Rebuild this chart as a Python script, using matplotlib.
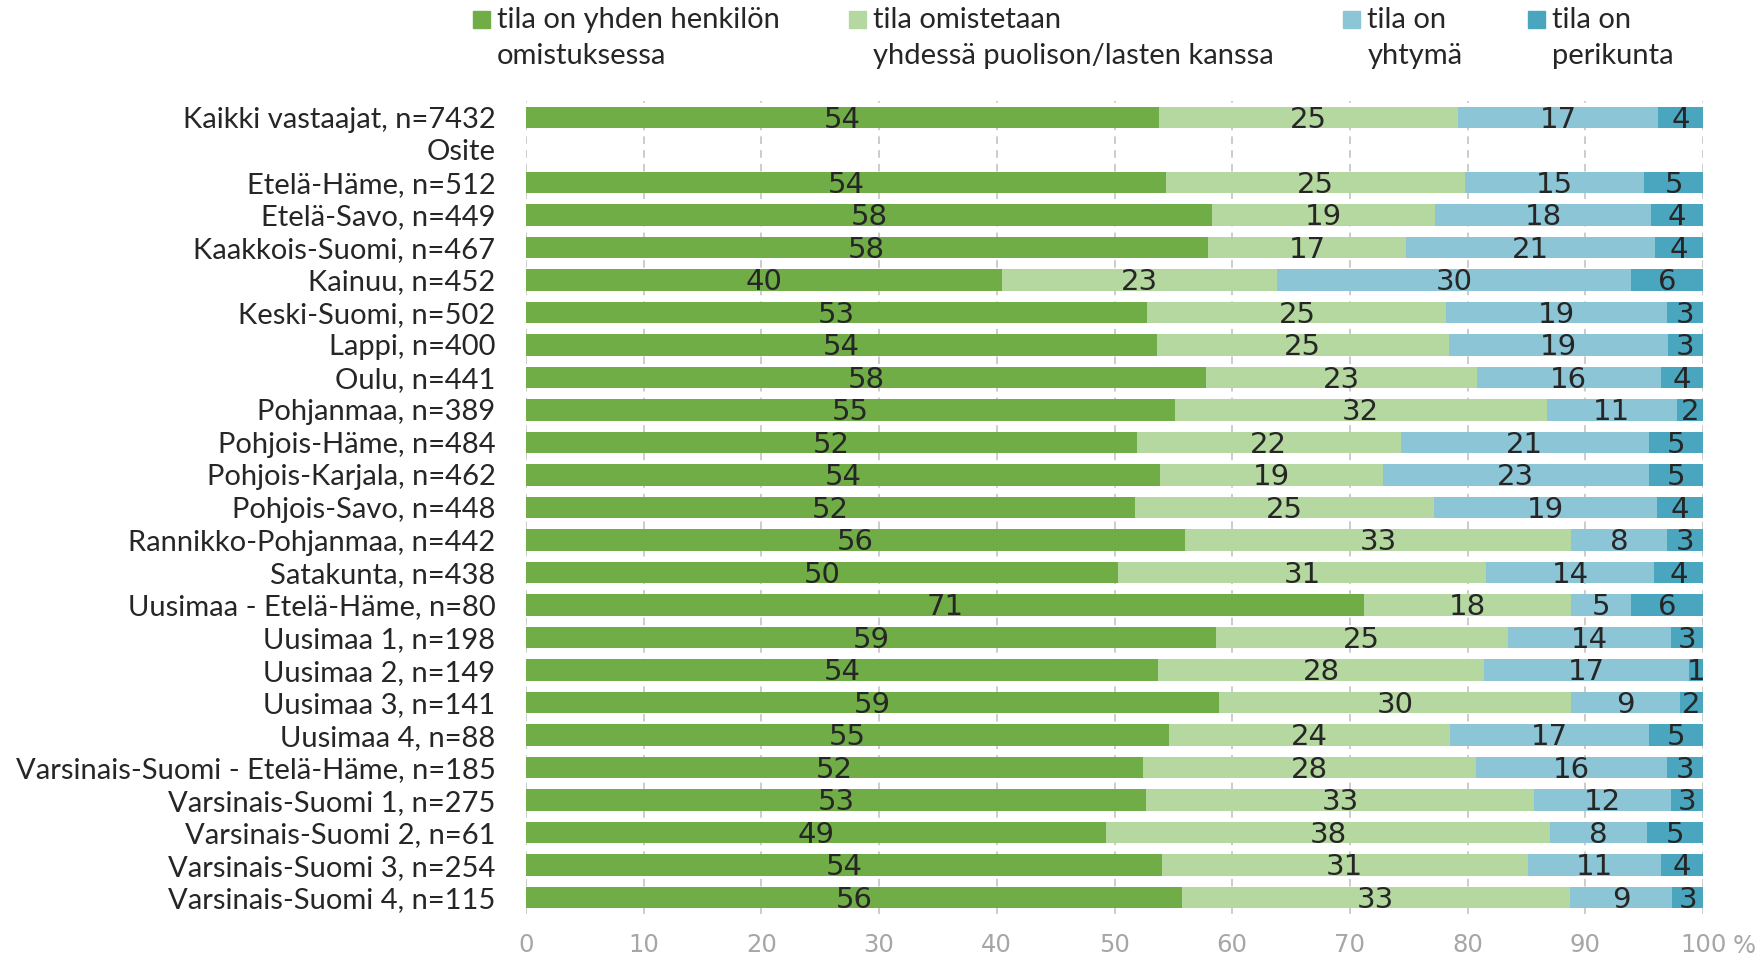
import matplotlib.pyplot as plt
from matplotlib.patches import Rectangle
import numpy as np

categories = ["Kaikki vastaajat, n=7432", "Osite", "Etelä-Häme, n=512", "Etelä-Savo, n=449",
              "Kaakkois-Suomi, n=467", "Kainuu, n=452", "Keski-Suomi, n=502", "Lappi, n=400",
              "Oulu, n=441", "Pohjanmaa, n=389", "Pohjois-Häme, n=484", "Pohjois-Karjala, n=462",
              "Pohjois-Savo, n=448", "Rannikko-Pohjanmaa, n=442", "Satakunta, n=438",
              "Uusimaa - Etelä-Häme, n=80", "Uusimaa 1, n=198", "Uusimaa 2, n=149",
              "Uusimaa 3, n=141", "Uusimaa 4, n=88", "Varsinais-Suomi - Etelä-Häme, n=185",
              "Varsinais-Suomi 1, n=275", "Varsinais-Suomi 2, n=61", "Varsinais-Suomi 3, n=254",
              "Varsinais-Suomi 4, n=115"]

# "Osite" is a heading row without data
yksi = [53.8, np.nan, 54.4, 58.3, 57.9, 40.4, 52.8, 53.6, 57.8, 55.1, 51.9, 53.9, 51.7,
        56.0, 50.3, 71.2, 58.6, 53.7, 58.9, 54.6, 52.4, 52.7, 49.3, 54.0, 55.7]
puoliso = [25.4, np.nan, 25.4, 18.9, 16.9, 23.4, 25.4, 24.8, 23.0, 31.6, 22.4, 18.9, 25.4,
           32.8, 31.3, 17.6, 24.8, 27.7, 29.9, 23.9, 28.3, 32.9, 37.7, 31.1, 33.0]
yhtyma = [17.0, np.nan, 15.2, 18.4, 21.1, 30.1, 18.7, 18.6, 15.6, 11.1, 21.1, 22.6, 19.0,
          8.1, 14.2, 5.1, 13.9, 17.4, 9.2, 16.9, 16.2, 11.7, 8.2, 11.3, 8.7]
perikunta = [3.8, np.nan, 5.0, 4.4, 4.1, 6.1, 3.1, 3.0, 3.6, 2.2, 4.6, 4.6, 3.9,
             3.1, 4.2, 6.1, 2.7, 1.2, 2.0, 4.6, 3.1, 2.7, 4.8, 3.6, 2.6]

series_names = ["tila on yhden henkilön\nomistuksessa",
                "tila omistetaan\nyhdessä puolison/lasten kanssa",
                "tila on\nyhtymä",
                "tila on\nperikunta"]
colors = ["#70AD47", "#B4D8A0", "#8CC5D5", "#4AA6BF"]

label_font = "Lato"
num_font = ["Liberation Sans Narrow", "DejaVu Sans"]
txt_col = "#262626"

fig = plt.figure(figsize=(17.55, 9.6), dpi=100)
ax = fig.add_axes([0.2997, 0.048, 0.6707, 0.8467])

y = np.arange(len(categories))
left = np.zeros(len(categories))
for vals, col in zip([yksi, puoliso, yhtyma, perikunta], colors):
    v = np.array(vals, dtype=float)
    ax.barh(y, np.nan_to_num(v), left=left, height=0.66, color=col, zorder=3)
    for yi, (l, w) in enumerate(zip(left, v)):
        if np.isnan(w):
            continue
        ax.text(l + w / 2, yi + 0.07, "%d" % round(w), ha="center", va="center",
                fontsize=21, color=txt_col, family=num_font, zorder=4)
    left = left + np.nan_to_num(v)

ax.set_xlim(0, 100)
ax.set_ylim(len(categories) - 0.5, -0.5)
ax.set_yticks(y)
ax.set_yticklabels(categories, fontsize=21, family=label_font, color=txt_col)
ax.set_xticks(np.arange(0, 101, 10))
ax.set_xticklabels([str(t) for t in range(0, 101, 10)], fontsize=17.5, family=num_font,
                   color="#A6A6A6")
ax.tick_params(axis="both", length=0)
ax.tick_params(axis="x", pad=14)
ax.tick_params(axis="y", pad=22)
ax.xaxis.grid(True, color="#BFBFBF", linestyle=(0, (5, 4)), linewidth=1.1, zorder=0)
for s in ax.spines.values():
    s.set_visible(False)
fig.text(0.9875, 0.0146, "%", fontsize=17.5, family=num_font, color="#A6A6A6",
         ha="left", va="center")

# legend across the top
leg_x = [0.2695, 0.4838, 0.7653, 0.8707]
for lx, name, col in zip(leg_x, series_names, colors):
    fig.patches.append(Rectangle((lx, 0.9708), 0.0096, 0.0177, transform=fig.transFigure,
                                 color=col, figure=fig))
    fig.text(lx + 0.0138, 0.9604, name, fontsize=21, family=label_font, color=txt_col,
             ha="left", va="center", linespacing=1.5)

fig.savefig("out.png", dpi=100)
